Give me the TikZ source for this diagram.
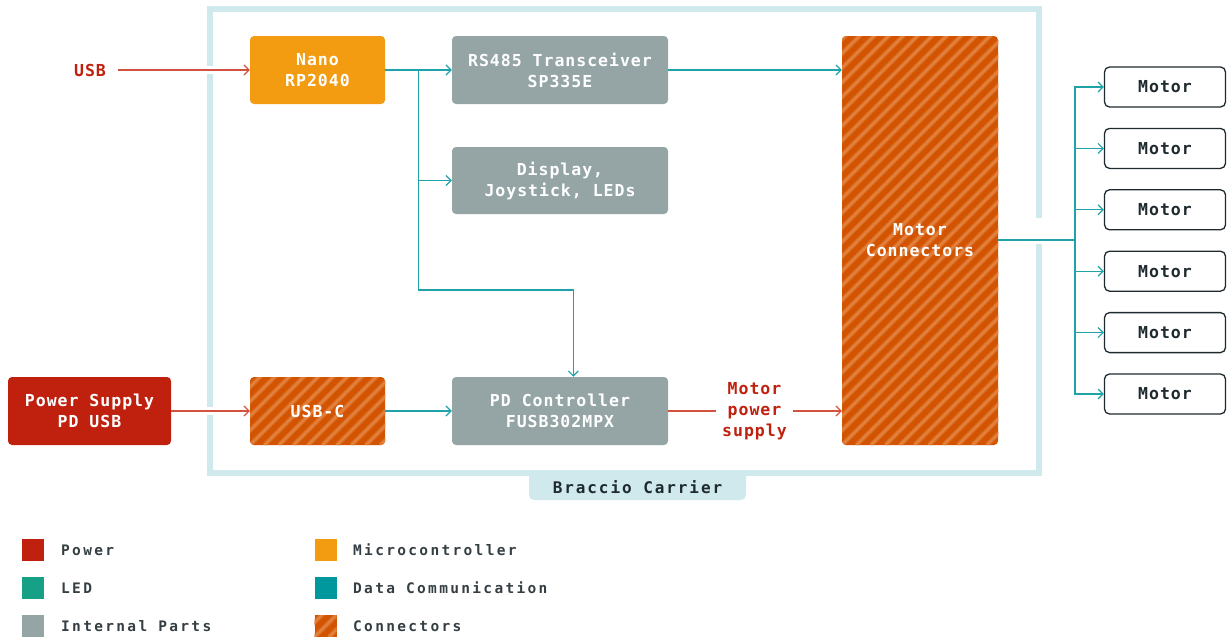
\documentclass[tikz,border=0pt]{standalone}
\usepackage{fontspec}
\newfontfamily\mono[LetterSpace=6]{DejaVu Sans Mono}
\newfontfamily\monowide[LetterSpace=12]{DejaVu Sans Mono}
\newfontfamily\legfont[LetterSpace=16]{DejaVu Sans Mono}
\usetikzlibrary{arrows.meta,calc}
\definecolor{pwr}{HTML}{C0200E}
\definecolor{pwrline}{HTML}{D2513F}
\definecolor{mcu}{HTML}{F39C12}
\definecolor{ledc}{HTML}{16A085}
\definecolor{datac}{HTML}{00979D}
\definecolor{dline}{HTML}{1FA3A9}
\definecolor{partgray}{HTML}{95A5A6}
\definecolor{conn}{HTML}{D35400}
\definecolor{connlt}{HTML}{E2803E}
\definecolor{framec}{HTML}{CFE9EC}
\definecolor{ink}{HTML}{1F2A2E}
\tikzset{
  boxfont/.style={font=\mono\bfseries\fontsize{16.5}{21}\selectfont},
  blk/.style={boxfont, rounded corners=4pt, inner sep=0pt, align=center, text=white},
  stripes/.style={fill=conn, path picture={
      \foreach \k in {-32,...,13}{
        \draw[conn!50!connlt, line width=4.8pt] ([xshift=\k*14.5pt]path picture bounding box.south west) -- ++(470pt,470pt);
        \draw[connlt, line width=2.4pt] ([xshift=\k*14.5pt]path picture bounding box.south west) -- ++(470pt,470pt);
      }}},
  motorbox/.style={boxfont, draw=ink, line width=1.3pt, fill=white, text=ink, rounded corners=5pt,
      minimum width=121pt, minimum height=40pt, inner sep=0pt},
  tip/.style={-{Straight Barb[length=5pt,width=10pt]}},
  dconn/.style={draw=dline, line width=1.2pt, tip},
  pconn/.style={draw=pwrline, line width=1.2pt, tip},
  legsq/.style={minimum width=22pt, minimum height=22pt, inner sep=0pt},
  legtxt/.style={font=\legfont\bfseries\fontsize{14.5}{16}\selectfont, text=ink!90, anchor=west, inner sep=0pt},
}
\begin{document}
\begin{tikzpicture}[x=1pt,y=-1pt]
\useasboundingbox (0,0) rectangle (1227,637);
% carrier frame
\draw[framec, line width=6pt] (209.5,8.5) rectangle (1038.5,472.5);
\fill[framec] (529,472) [rounded corners=5pt] -- (529,500) -- (746,500) [sharp corners] -- (746,472) -- cycle;
\node[font=\monowide\bfseries\fontsize{16}{21}\selectfont, text=ink] (braccio) at (637.5,487) {Braccio Carrier};
% gaps in frame
\fill[white] (205,66) rectangle (215,74);
\fill[white] (205,407) rectangle (215,415);
\fill[white] (1033,218) rectangle (1044,244);
% blocks
\node[blk, fill=mcu, minimum width=135pt, minimum height=68pt] (nano) at (317.5,70) {Nano\\RP2040};
\node[blk, fill=partgray, minimum width=216pt, minimum height=68pt] (rs) at (560,70) {RS485 Transceiver\\SP335E};
\node[blk, fill=partgray, minimum width=216pt, minimum height=67pt] (disp) at (560,180.5) {Display,\\Joystick, LEDs};
\node[blk, fill=partgray, minimum width=216pt, minimum height=68pt] (pd) at (560,411) {PD Controller\\FUSB302MPX};
\node[blk, stripes, minimum width=135pt, minimum height=68pt] (usbc) at (317.5,411) {USB-C};
\node[blk, fill=pwr, minimum width=163pt, minimum height=68pt] (ps) at (89.5,411) {Power Supply\\PD USB};
\node[blk, stripes, minimum width=156pt, minimum height=409pt] (mc) at (920,240.5) {Motor\\Connectors};
\foreach \i/\y in {1/87,2/148.4,3/209.8,4/271.2,5/332.6,6/394}
  \node[motorbox] (m\i) at (1165,\y) {Motor};
% labels
\node[boxfont, text=pwr, inner sep=0pt] (usbl) at (90,70) {USB};
\node[boxfont, text=pwr, align=center, inner sep=0pt] (mps) at (754.5,411) {Motor\\power\\supply};
% connectors
\draw[pconn, shorten <=12pt] (usbl.east) -- (nano.west);
\draw[pconn] (ps.east) -- (usbc.west);
\draw[dconn] (nano.east) -- (rs.west);
\coordinate (bj) at (418.3,70);
\draw[dconn] (bj) |- (disp.west);
\draw[dconn] (bj) -- (418.3,290) -| ([xshift=13.3pt]pd.north);
\draw[dconn] (rs.east) -- (rs.east -| mc.west);
\draw[dconn] (usbc.east) -- (pd.west);
\draw[draw=pwrline, line width=1.2pt, shorten >=6pt] (pd.east) -- (mps.west);
\draw[pconn, shorten <=6pt] (mps.east) -- (mps.east -| mc.west);
\coordinate (mj) at (1075,240);
\draw[draw=dline, line width=1.2pt] (mc.east |- mj) -- (mj);
\foreach \i in {1,...,6}
  \draw[dconn] (mj) |- (m\i.west);
% legend
\node[legsq, fill=pwr] (lg1) at (33,550) {};
\node[legtxt] (lt1) at (61,550) {Power};
\node[legsq, fill=ledc] (lg2) at (33,588) {};
\node[legtxt] (lt2) at (61,588) {LED};
\node[legsq, fill=partgray] (lg3) at (33,626) {};
\node[legtxt] (lt3) at (61,626) {Internal Parts};
\node[legsq, fill=mcu] (lg4) at (325.5,550) {};
\node[legtxt] (lt4) at (353,550) {Microcontroller};
\node[legsq, fill=datac] (lg5) at (325.5,588) {};
\node[legtxt] (lt5) at (353,588) {Data Communication};
\node[legsq, stripes] (lg6) at (325.5,626) {};
\node[legtxt] (lt6) at (353,626) {Connectors};
\end{tikzpicture}
\end{document}
